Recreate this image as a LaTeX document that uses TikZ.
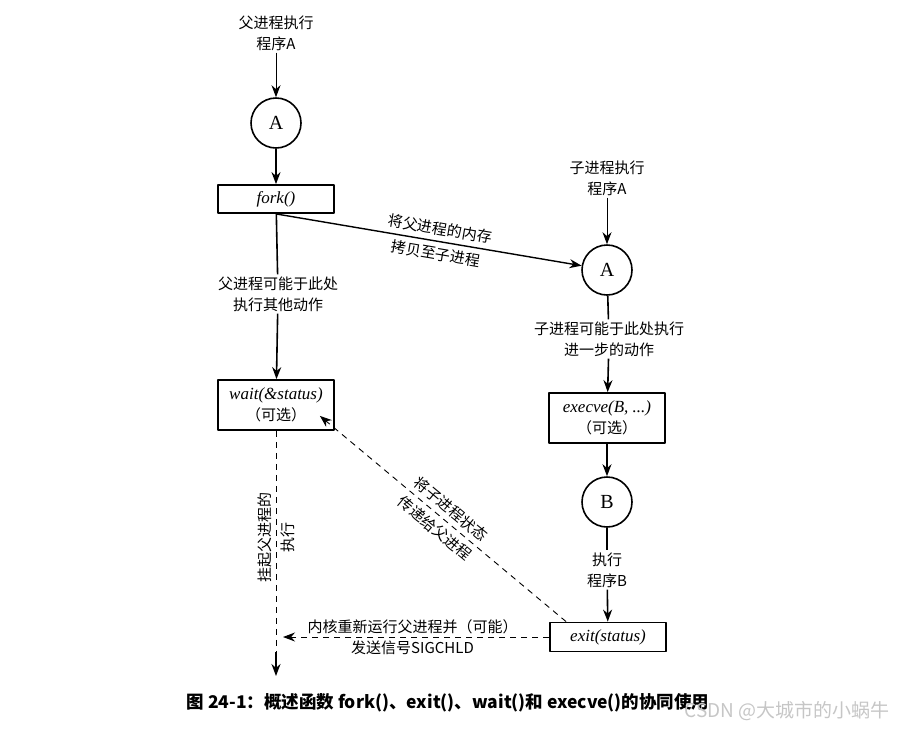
\documentclass[tikz,border=0pt]{standalone}
\usepackage{fontspec}
\setmainfont{Liberation Serif}
\newfontfamily\cjk{Noto Sans CJK SC}
\usetikzlibrary{arrows.meta,calc}
\newcommand\fn[1]{{\rmfamily\itshape\fontsize{17}{21}\selectfont #1}}
\begin{document}
\begin{tikzpicture}[x=1pt, y=-1pt, line join=round, >={Stealth[length=12pt,width=9pt]},
	font=\cjk\fontsize{15}{21}\selectfont,
	lbl/.style={align=center, inner sep=2pt},
	wide/.style={lbl, sloped, font=\cjk\fontsize{15}{25}\selectfont},
	proc/.style={draw, circle, line width=1.6pt, minimum size=50pt, inner sep=0pt, font=\rmfamily\fontsize{20}{20}\selectfont},
	call/.style={draw, line width=1.8pt, minimum width=116pt, minimum height=28pt, align=center, inner sep=2pt},
	flow/.style={line width=1.6pt},
	feed/.style={line width=1pt},
	note/.style={dash pattern=on 6pt off 5pt, line width=0.9pt}]
	\useasboundingbox (0,0) rectangle (909,729);
	\node[lbl] (ptop) at (276,33) {父进程执行\\程序A};
	\node[proc] (pA) at (276,123) {A};
	\node[call] (fork) at (276,199) {\fn{fork()}};
	\node[lbl] (pdo) at (278,294) {父进程可能于此处\\执行其他动作};
	\node[call, minimum height=50pt] (wait) at (276,405) {\fn{wait(\&status)}\\（可选）};
	\node[lbl, rotate=90, font=\cjk\fontsize{15}{23}\selectfont] (psus) at (276,537) {挂起父进程的\\执行};
	\coordinate (pstop) at (276,652);
	\coordinate (pend) at (276,676);
	\node[lbl] (ctop) at (607,178) {子进程执行\\程序A};
	\node[proc] (cA) at (607,270) {A};
	\node[lbl] (cdo) at (609,339) {子进程可能于此处执行\\进一步的动作};
	\node[call, minimum height=50pt] (execve) at (607,418) {\fn{execve(B, ...)}\\（可选）};
	\node[proc] (cB) at (607,502) {B};
	\node[lbl] (crun) at (607,570) {执行\\程序B};
	\node[call, minimum height=29pt] (exit) at (608,637) {\fn{exit(status)}};
	\foreach \a/\b in {ptop/pA,ctop/cA}
	\draw[feed,->] (\a) -- (\b);
	\foreach \a/\b in {pA/fork,pdo/wait,cdo/execve,execve/cB,crun/exit}
	\draw[flow,->] (\a) -- (\b);
	\foreach \a/\b in {fork/pdo,cA/cdo,cB/crun}
	\draw[flow] (\a) -- (\b);
	\draw[note] (wait.south) -- (pstop);
	\draw[flow,->] (pstop) -- (pend);
	\draw[line width=1.4pt,->] (fork.south) -- node[wide, pos=.53] {将父进程的内存\\拷贝至子进程} (cA);
	\draw[note,->] ($(exit.north west)+(17,0)$) -- node[wide] {将子进程状态\\传递给父进程} ($(wait.south east)+(-15,-15)$);
	\draw[note,->,shorten >=7pt] (exit.west) -- node[lbl] {内核重新运行父进程并（可能）\\发送信号SIGCHLD} (exit.west -| pend);
	\node[anchor=west, font=\cjk\bfseries\fontsize{17.5}{17.5}\selectfont] (cap) at (183,703) {图 24-1：概述函数 fork()、exit()、wait()和 execve()的协同使用};
	\node[anchor=east, text=gray!45, font=\cjk\fontsize{19}{19}\selectfont] (mark) at (893,711) {CSDN @大城市的小蜗牛};
\end{tikzpicture}
\end{document}
